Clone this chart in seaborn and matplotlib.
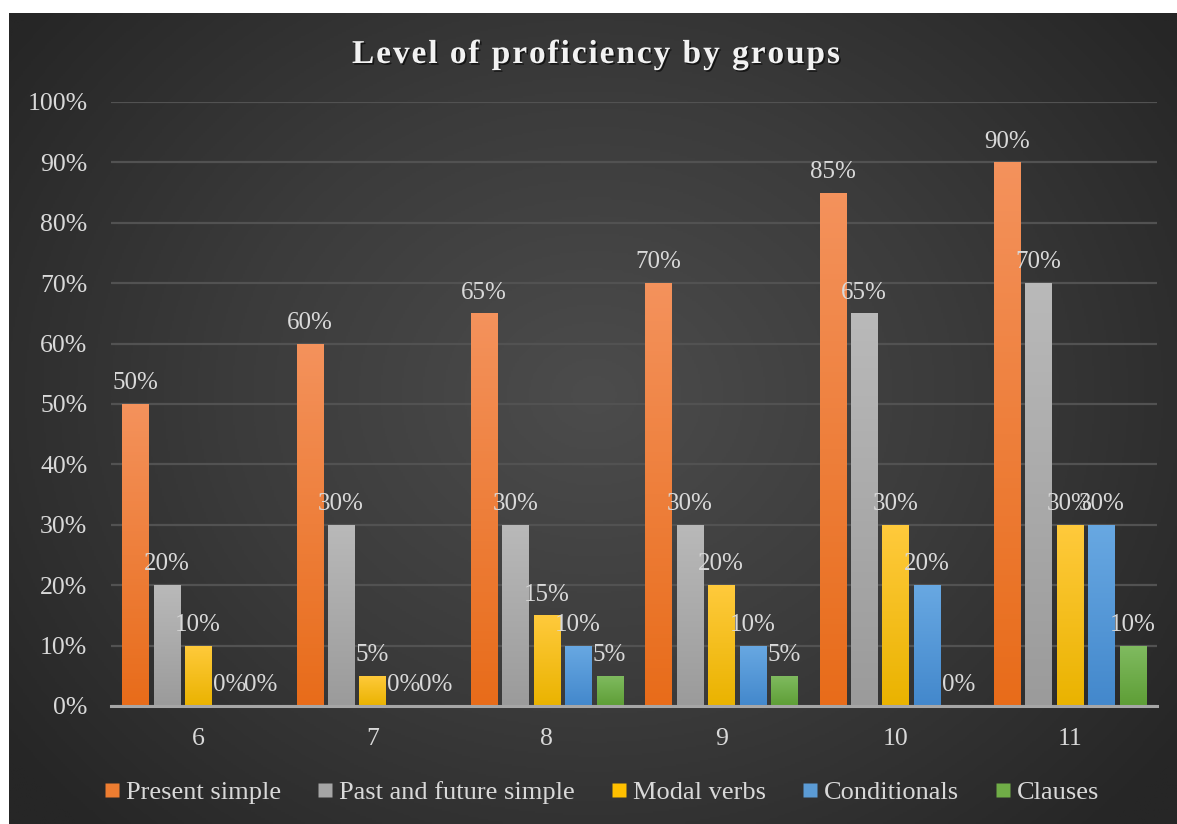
import numpy as np
import pandas as pd
import matplotlib
matplotlib.use("Agg")
import matplotlib.pyplot as plt
from matplotlib.colors import LinearSegmentedColormap
from matplotlib.lines import Line2D
import matplotlib.patheffects as pe
import seaborn as sns

groups = ["6", "7", "8", "9", "10", "11"]
series = ["Present simple", "Past and future simple", "Modal verbs", "Conditionals", "Clauses"]
present_simple = [0.50, 0.60, 0.65, 0.70, 0.85, 0.90]
past_future_simple = [0.20, 0.30, 0.30, 0.30, 0.65, 0.70]
modal_verbs = [0.10, 0.05, 0.15, 0.20, 0.30, 0.30]
conditionals = [0.00, 0.00, 0.10, 0.10, 0.20, 0.30]
clauses = [0.00, 0.00, 0.05, 0.05, 0.00, 0.10]
yticks = [0.0, 0.1, 0.2, 0.3, 0.4, 0.5, 0.6, 0.7, 0.8, 0.9, 1.0]
title = "Level of proficiency by groups"

values = [present_simple, past_future_simple, modal_verbs, conditionals, clauses]
rows = []
for s, vals in zip(series, values):
    for g, v in zip(groups, vals):
        rows.append({"Group": g, "Series": s, "Value": v})
df = pd.DataFrame(rows)

base_colors = ["#ED7D31", "#A5A5A5", "#FFC000", "#5B9BD5", "#70AD47"]
top_colors = ["#F4925C", "#B9B9B9", "#FFCA3C", "#68A8E2", "#80BB60"]
bot_colors = ["#E86C1A", "#9B9B9B", "#EAB300", "#4388CC", "#5E9E36"]
txt = "#D9D9D9"
serif = ["Liberation Serif", "DejaVu Serif"]

sns.set_theme(style="dark")
plt.rcParams["font.family"] = serif

FW, FH = 1177, 824
fig = plt.figure(figsize=(FW / 100, FH / 100), dpi=100)
fig.patch.set_facecolor("white")

# background radial gradient
bg = fig.add_axes([9 / FW, 0, 1 - 9 / FW, 1 - 13 / FH], zorder=-10)
H, W = 400, 580
yy, xx = np.mgrid[0:H, 0:W]
cx, cy = W * 0.5, H * 0.47
r = np.sqrt(((xx - cx) / (W * 0.62)) ** 2 + ((yy - cy) / (H * 0.75)) ** 2)
r = np.clip(r, 0, 1)
bgcmap = LinearSegmentedColormap.from_list("bg", ["#4C4C4C", "#3B3B3B", "#262626"])
bg.imshow(r, cmap=bgcmap, aspect="auto", extent=(0, 1, 0, 1), vmin=0, vmax=1)
bg.set_axis_off()

ax = fig.add_axes([111 / FW, 1 - 706 / FH, (1157 - 111) / FW, (706 - 102) / FH])
ax.patch.set_alpha(0)

sns.barplot(data=df, x="Group", y="Value", hue="Series", hue_order=series,
            order=groups, palette=base_colors, width=0.9, gap=0.17,
            ax=ax, legend=False, saturation=1, edgecolor="none", linewidth=0)

# gradient fills + labels
for i, cont in enumerate(ax.containers):
    cmap = LinearSegmentedColormap.from_list(f"c{i}", [bot_colors[i], top_colors[i]])
    for bar in cont:
        h = bar.get_height()
        x0 = bar.get_x()
        w = bar.get_width()
        if h > 0:
            grad = np.linspace(1, 0, 100).reshape(-1, 1)
            im = ax.imshow(grad, cmap=cmap, aspect="auto",
                           extent=(x0, x0 + w, 0, h), zorder=2, vmin=0, vmax=1)
            im.set_clip_path(bar)
            bar.set_zorder(1)
    ax.bar_label(cont, labels=[f"{v:.0%}" for v in cont.datavalues],
                 padding=7, color=txt, fontsize=18, family=serif, zorder=5)

ax.set_xlim(-0.5, len(groups) - 0.5)
ax.set_ylim(0, 1.0)
ax.set_yticks(yticks)
ax.set_yticklabels([f"{t:.0%}" for t in yticks])
ax.grid(axis="y", color="#525252", linewidth=1.6, zorder=0)
ax.grid(axis="x", visible=False)
ax.set_axisbelow(True)
for s in ["top", "right", "left"]:
    ax.spines[s].set_visible(False)
ax.spines["bottom"].set_color("#A6A6A6")
ax.spines["bottom"].set_linewidth(2.2)
ax.spines["bottom"].set_zorder(6)
ax.tick_params(axis="both", colors=txt, labelsize=18.5, length=0)
ax.tick_params(axis="y", pad=17)
ax.tick_params(axis="x", pad=16)
ax.set_xlabel("")
ax.set_ylabel("")

handles = [Line2D([0], [0], marker="s", linestyle="none", markersize=10,
                  markerfacecolor=c, markeredgecolor="none") for c in base_colors]
leg = fig.legend(handles, series, loc="center", bbox_to_anchor=(602 / FW, 1 - 792 / FH),
                 ncol=5, frameon=False, fontsize=19, handletextpad=0.25,
                 columnspacing=1.4, handlelength=0.55)
for t in leg.get_texts():
    t.set_color(txt)

# letter-spaced title drawn character by character
renderer = fig.canvas.get_renderer()
tsize = 24
def char_w(ch):
    if ch == " ":
        a = fig.text(0, 0, "x x", fontsize=tsize, fontweight="bold", family=serif)
        b = fig.text(0, 0, "xx", fontsize=tsize, fontweight="bold", family=serif)
        w = a.get_window_extent(renderer).width - b.get_window_extent(renderer).width
        a.remove(); b.remove()
        return w
    t = fig.text(0, 0, ch, fontsize=tsize, fontweight="bold", family=serif)
    w = t.get_window_extent(renderer).width
    t.remove()
    return w

widths = [char_w(c) for c in title]
x_left, x_right = 352, 840
spacing = (x_right - x_left - sum(widths)) / (len(title) - 1)
xc = x_left
shadow = [pe.withSimplePatchShadow(offset=(1.2, -1.2), shadow_rgbFace="black", alpha=0.6)]
for ch, w in zip(title, widths):
    if ch != " ":
        fig.text(xc / FW, 1 - 63 / FH, ch, ha="left", va="baseline", fontsize=tsize,
                 fontweight="bold", color="#F2F2F2", family=serif, path_effects=shadow)
    xc += w + spacing

fig.savefig("out.png", dpi=100)
